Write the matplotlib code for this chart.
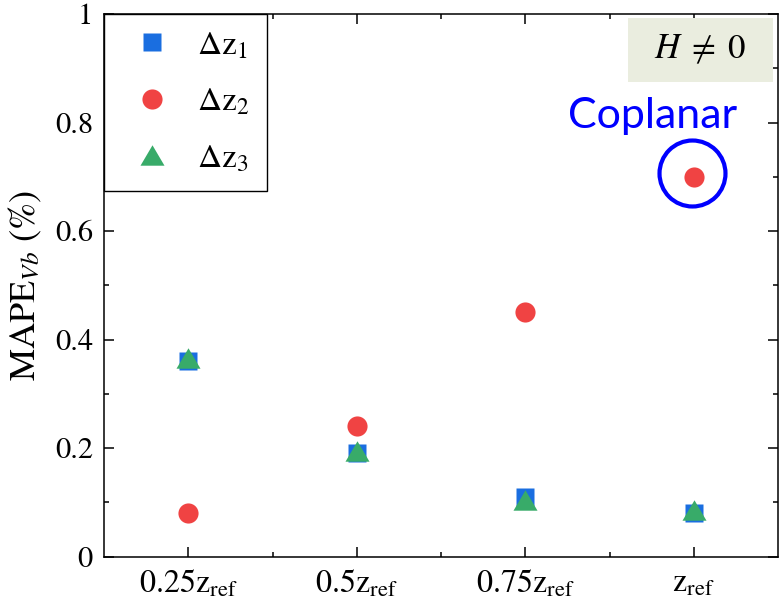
import matplotlib
matplotlib.use("Agg")
import matplotlib.pyplot as plt
from matplotlib.patches import Rectangle
from matplotlib.ticker import MultipleLocator, FixedLocator, FuncFormatter

plt.rcParams['font.family'] = ['STIXGeneral', 'Liberation Serif', 'DejaVu Serif']
plt.rcParams['mathtext.fontset'] = 'stix'

categories = [r'$0.25\mathrm{z}_{\mathrm{ref}}$', r'$0.5\mathrm{z}_{\mathrm{ref}}$',
              r'$0.75\mathrm{z}_{\mathrm{ref}}$', r'$\mathrm{z}_{\mathrm{ref}}$']
dz1 = [0.36, 0.19, 0.11, 0.08]
dz2 = [0.08, 0.24, 0.45, 0.70]
dz3 = [0.365, 0.195, 0.105, 0.085]
series_labels = [r'$\Delta\mathrm{z}_1$', r'$\Delta\mathrm{z}_2$', r'$\Delta\mathrm{z}_3$']
ylabel = r'MAPE$_{Vb}$ (%)'
box_text = r'$H\;\neq\;0$'
note_text = 'Coplanar'

x = [1, 2, 3, 4]

fig = plt.figure(figsize=(7.8, 6.03), dpi=100)
ax = fig.add_axes([104/780, (603-556.5)/603, (778-104)/780, (556.5-14)/603])

tri = [(0, 0.85), (-1, -0.85), (1, -0.85)]
ax.plot(x, dz1, linestyle='none', marker='s', ms=13.5, color='#1a6ee0', mec='none', label=series_labels[0], zorder=3)
ax.plot(x, dz2, linestyle='none', marker='o', ms=14.5, color='#f04343', mec='none', label=series_labels[1], zorder=3)
ax.plot(x, dz3, linestyle='none', marker=tri, ms=17.3, color='#38ab69', mec='none', label=series_labels[2], zorder=4)

ax.set_xlim(0.5, 4.5)
ax.set_ylim(0, 1)
ax.xaxis.set_major_locator(FixedLocator(x))
ax.xaxis.set_minor_locator(FixedLocator([1.5, 2.5, 3.5]))
ax.set_xticklabels(categories)
ax.yaxis.set_major_locator(MultipleLocator(0.2))
ax.yaxis.set_minor_locator(MultipleLocator(0.1))
ax.yaxis.set_major_formatter(FuncFormatter(lambda v, p: f'{v:g}'))

ax.tick_params(which='both', direction='in', top=True, right=True, width=1.1)
ax.tick_params(axis='y', labelsize=22)
ax.tick_params(axis='x', labelsize=23)
ax.tick_params(which='major', length=7)
ax.tick_params(which='minor', length=3.6)
ax.tick_params(axis='x', which='major', pad=9)
ax.tick_params(axis='y', which='major', pad=8)
for s in ax.spines.values():
    s.set_linewidth(1.1)

ax.set_ylabel(ylabel, fontsize=26)
ax.yaxis.set_label_coords(-0.117, 0.5)
ax.yaxis.label.set_va('center')

leg = ax.legend(loc='upper left', borderaxespad=0, fontsize=24, frameon=True, fancybox=False,
                edgecolor='black', framealpha=1, handletextpad=0.4, labelspacing=0.78,
                borderpad=0.5, handlelength=1.9)
leg.get_frame().set_linewidth(1.0)

ax.add_patch(Rectangle((0.7774, 0.8747), 0.215, 0.118, transform=ax.transAxes,
                       facecolor='#eaeddf', edgecolor='none', zorder=2))
ax.text(0.884, 0.934, box_text, transform=ax.transAxes, fontsize=25, ha='center', va='center', zorder=3)
ax.text(3.758, 0.79, note_text, color='#0000ff', fontsize=31, family=['Lato', 'DejaVu Sans'],
        ha='center', va='baseline')
ax.plot([3.99], [0.707], marker='o', ms=47.5, mfc='none', mec='#0000ff', mew=3.0, linestyle='none', zorder=5)

fig.savefig('out.png', dpi=100)
